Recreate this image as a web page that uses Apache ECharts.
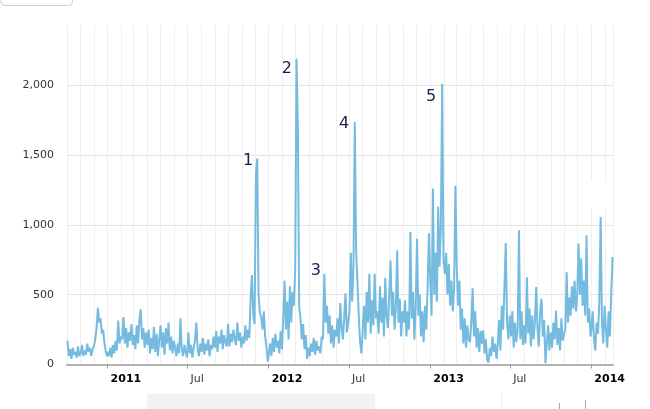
<!DOCTYPE html>
<html>
<head>
<meta charset="utf-8">
<script src="https://cdn.jsdelivr.net/npm/echarts@6/dist/echarts.min.js"></script>
<style>
html,body{margin:0;padding:0;background:#fff;}
#chart{width:650px;height:409px;}
</style>
</head>
<body>
<div id="chart"></div>
<script>
const start2010 = '2010-10-02';
const vals2010 = [
  170, 60, 110, 40, 120, 70, 90, 50, 130, 60,          // Oct
  80, 140, 60, 100, 70, 150, 90, 120, 60, 110,         // Nov
  130, 180, 260, 405, 300, 330, 220, 250, 150, 90, 60  // Dec
];
const start2011 = '2011-01-01';
const vals2011 = [
  90, 60, 120, 50, 140, 80, 170, 100, 315, 150, 200,   // Jan
  180, 340, 150, 260, 120, 230, 170, 290, 140,         // Feb
  210, 110, 280, 150, 320, 395, 180, 260, 120, 230,    // Mar
  140, 250, 80, 190, 110, 270, 90, 220, 60, 180,       // Apr
  280, 120, 230, 70, 260, 150, 300, 100, 200, 80, 170, // May
  120, 60, 150, 80, 330, 110, 60, 140, 90, 50,         // Jun
  230, 80, 140, 50, 120, 170, 300, 110, 60, 150,       // Jul
  90, 190, 70, 150, 100, 180, 60, 140, 110, 200,       // Aug
  120, 240, 90, 200, 150, 250, 110, 210, 160, 130,     // Sep
  290, 130, 220, 160, 250, 180, 140, 300, 170, 230, 120, // Oct
  200, 150, 280, 170, 250, 190, 480, 640, 350, 290,    // Nov
  1360, 1475, 500, 370, 340, 250, 380, 200, 120, 20    // Dec
];
const start2012 = '2012-01-01';
const vals2012 = [
  20, 150, 60, 190, 90, 220, 120, 170, 80, 240, 110,   // Jan
  330, 600, 250, 450, 180, 560, 300, 520, 420,         // Feb
  680, 2190, 1710, 420, 330, 180, 290, 110, 210, 40, 120, // Mar
  60, 150, 90, 190, 70, 170, 100, 130, 80, 200,        // Apr
  180, 650, 300, 420, 220, 350, 150, 280, 120, 250,    // May
  200, 330, 150, 440, 260, 180, 340, 510, 230, 300,    // Jun
  380, 800, 450, 700, 1735, 820, 600, 350, 160, 80,    // Jul
  250, 420, 180, 520, 300, 650, 220, 460, 280, 650, 330, // Aug
  380, 220, 560, 300, 480, 200, 620, 340, 260, 500,    // Sep
  745, 350, 520, 250, 400, 817, 300, 470, 200, 380,    // Oct
  300, 460, 200, 380, 250, 950, 330, 520, 180, 420,    // Nov
  900, 350, 500, 200, 380, 160, 420, 250, 560, 940     // Dec
];
const start2013 = '2013-01-01';
const vals2013 = [
  600, 350, 1260, 500, 800, 450, 1130, 700, 980, 2010, 750, // Jan
  650, 800, 500, 720, 420, 600, 380, 550, 1280,        // Feb
  700, 420, 600, 250, 400, 150, 330, 120, 280, 180,    // Mar
  160, 300, 545, 200, 380, 120, 260, 90, 240, 150,     // Apr
  245, 80, 180, 30, 15, 120, 60, 200, 90, 150, 40,     // May
  150, 320, 100, 420, 250, 550, 870, 300, 180, 350,    // Jun
  200, 380, 120, 300, 160, 250, 960, 180, 380, 140,    // Jul
  280, 150, 625, 220, 400, 130, 350, 180, 300, 555,    // Aug
  250, 130, 380, 470, 200, 320, 10, 150, 280, 100,     // Sep
  230, 120, 300, 180, 385, 140, 260, 100, 330, 170, 220, // Oct
  250, 660, 300, 480, 350, 560, 400, 600, 380, 500,    // Nov
  865, 500, 760, 420, 600, 350, 925, 300, 400, 200     // Dec
];
const start2014 = '2014-01-01';
const vals2014 = [
  250, 380, 180, 100, 300, 220, 450, 1055, 300, 150, 420, // Jan
  250, 120, 380, 200, 500, 770                         // Feb
];
const stepDays = 3;

// Axis settings
const xMin = '2010-10-01';
const xMax = '2014-02-19';
const tickDates = ['2011-01-01', '2011-07-01', '2012-01-01', '2012-07-01', '2013-01-01', '2013-07-01', '2014-01-01'];
const tickLabels = ['2011', 'Jul', '2012', 'Jul', '2013', 'Jul', '2014'];
const tickBold = [true, false, true, false, true, false, true];
const yTicks = [0, 500, 1000, 1500, 2000];
const yMax = 2430;

// Numbered annotations (label anchor positions)
const annotLabels = ['1', '2', '3', '4', '5'];
const annotDates = ['2011-11-15', '2012-02-11', '2012-04-17', '2012-06-20', '2013-01-03'];
const annotValues = [1455, 2115, 667, 1720, 1914];

function toTime(s, addDays) {
  const p = s.split('-').map(Number);
  return new Date(p[0], p[1] - 1, p[2] + (addDays || 0)).getTime();
}

const segments = [
  [start2010, vals2010], [start2011, vals2011], [start2012, vals2012],
  [start2013, vals2013], [start2014, vals2014]
];
const seriesData = [];
segments.forEach(function (seg) {
  seg[1].forEach(function (v, i) {
    seriesData.push([toTime(seg[0], i * stepDays), v]);
  });
});

const tickTimes = tickDates.map(function (d) { return toTime(d); });

const chart = echarts.init(document.getElementById('chart'), null, { renderer: 'canvas' });
const DAY = 24 * 3600 * 1000;

const option = {
  animation: false,
  backgroundColor: '#ffffff',
  grid: { left: 67, right: 37, top: 25, bottom: 44.5, containLabel: false },
  xAxis: [
    {
      type: 'time',
      min: toTime(xMin),
      max: toTime(xMax),
      minInterval: 28 * DAY,
      maxInterval: 31 * DAY,
      position: 'bottom',
      axisLine: { show: true, lineStyle: { color: '#b3b3b3', width: 2 } },
      axisTick: { show: false },
      axisLabel: { show: false },
      splitLine: { show: true, lineStyle: { color: '#efefef', width: 1 } }
    },
    {
      type: 'value',
      min: toTime(xMin),
      max: toTime(xMax),
      position: 'bottom',
      axisLine: { show: false },
      axisTick: {
        show: true, customValues: tickTimes, length: 4,
        lineStyle: { color: '#999999', width: 1 }
      },
      axisLabel: {
        show: true,
        customValues: tickTimes,
        margin: 9,
        align: 'left',
        padding: [0, 0, 0, 3],
        fontFamily: 'DejaVu Sans',
        fontSize: 11,
        color: '#333333',
        formatter: function (v) {
          const idx = tickTimes.indexOf(v);
          if (idx < 0) return '';
          return tickBold[idx] ? '{b|' + tickLabels[idx] + '}' : tickLabels[idx];
        },
        rich: { b: { fontWeight: 'bold', color: '#000000', fontFamily: 'DejaVu Sans', fontSize: 11 } }
      },
      splitLine: { show: false }
    }
  ],
  yAxis: {
    type: 'value',
    min: 0,
    max: yMax,
    interval: 500,
    axisLine: { show: false },
    axisTick: { show: false },
    axisLabel: {
      fontFamily: 'DejaVu Sans',
      fontSize: 11,
      color: '#333333',
      margin: 13,
      showMaxLabel: false,
      formatter: function (v) {
        return yTicks.indexOf(v) >= 0 ? v.toLocaleString('en-US') : '';
      }
    },
    splitLine: {
      show: true,
      lineStyle: { color: ['#e3e3e3', '#e3e3e3', '#e3e3e3', '#e3e3e3', '#e3e3e3', 'rgba(0,0,0,0)'], width: 1 }
    }
  },
  graphic: [
    { type: 'rect', z: 10, shape: { x: 1, y: -20, width: 71.5, height: 25.5, r: 4 },
      style: { fill: '#ffffff', stroke: '#cccccc', lineWidth: 1 } },
    { type: 'rect', z: 10, shape: { x: 147, y: 394, width: 228, height: 20 },
      style: { fill: '#f2f2f2' } },
    { type: 'line', z: 10, shape: { x1: 501.5, y1: 394, x2: 501.5, y2: 409 },
      style: { stroke: '#ebebeb', lineWidth: 1 } },
    { type: 'line', z: 10, shape: { x1: 559.5, y1: 403, x2: 559.5, y2: 409 },
      style: { stroke: '#aaaaaa', lineWidth: 1 } },
    { type: 'line', z: 10, shape: { x1: 585.5, y1: 400, x2: 585.5, y2: 409 },
      style: { stroke: '#aaaaaa', lineWidth: 1 } },
    { type: 'rect', z: 1, shape: { x: 589, y: 181, width: 22, height: 27 },
      style: { fill: '#ffffff' } }
  ],
  series: [
    {
      type: 'line',
      xAxisIndex: 0,
      data: seriesData,
      showSymbol: false,
      symbol: 'none',
      sampling: null,
      z: 3,
      lineStyle: { color: '#74bbdf', width: 2 },
      markPoint: {
        symbol: 'circle',
        symbolSize: 0,
        silent: true,
        label: {
          show: true,
          position: 'inside',
          fontFamily: 'DejaVu Sans',
          fontSize: 16,
          color: '#1c1c4e'
        },
        data: annotLabels.map(function (t, i) {
          return {
            coord: [toTime(annotDates[i]), annotValues[i]],
            value: t,
            label: { formatter: t }
          };
        })
      }
    }
  ]
};
chart.setOption(option);
</script>
</body>
</html>
